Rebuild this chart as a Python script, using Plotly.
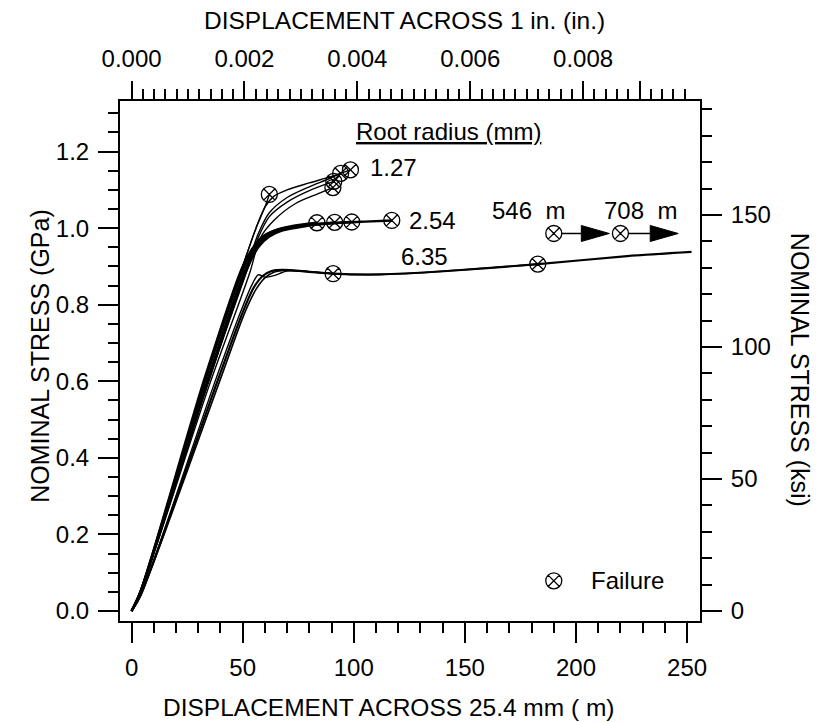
import plotly.graph_objects as go

FONT = "Liberation Sans, Arial, Helvetica, sans-serif"
INK = "black"

UM_PER_IN = 25400.0      # micrometres per inch
KSI_PER_GPA = 145.038    # ksi per GPa

# ---- axis ranges and ticks -------------------------------------------------
x_range_um = [-5.2, 255.8]
y_range_gpa = [-0.026, 1.332]

bottom_ticks_um = [0, 50, 100, 150, 200, 250]
left_ticks_gpa = [0.0, 0.2, 0.4, 0.6, 0.8, 1.0, 1.2]
right_ticks_ksi = [0, 50, 100, 150]
top_ticks_in = [0.000, 0.001, 0.002, 0.003, 0.004, 0.005, 0.006, 0.007, 0.008, 0.009]
top_labels_in = ["0.000", "", "0.002", "", "0.004", "", "0.006", "", "0.008", ""]

# ---- root radius 1.27 mm ---------------------------------------------------
r127_a_x = [0, 4, 33, 50, 56, 60, 62]
r127_a_y = [0, 0.05, 0.60, 0.90, 1.00, 1.055, 1.088]
r127_b_x = [0, 4, 33, 50, 56, 60, 64, 70, 80, 90, 98.5]
r127_b_y = [0, 0.05, 0.60, 0.90, 1.00, 1.055, 1.083, 1.10, 1.118, 1.135, 1.152]
r127_c_x = [0, 4, 34, 52, 57, 62, 70, 80, 88, 94.1]
r127_c_y = [0, 0.05, 0.60, 0.90, 0.985, 1.04, 1.08, 1.108, 1.127, 1.143]
r127_d_x = [0, 4, 34, 52, 57, 62, 70, 80, 91]
r127_d_y = [0, 0.05, 0.59, 0.89, 0.975, 1.03, 1.068, 1.098, 1.122]
r127_e_x = [0, 4, 35, 53, 58, 64, 74, 84, 90.6]
r127_e_y = [0, 0.05, 0.59, 0.88, 0.975, 1.02, 1.065, 1.09, 1.106]

# ---- root radius 2.54 mm ---------------------------------------------------
r254_a_x = [0, 4, 33, 50, 56, 60, 65, 72, 83.4]
r254_a_y = [0, 0.05, 0.60, 0.89, 0.955, 0.98, 0.995, 1.005, 1.014]
r254_b_x = [0, 4, 34, 51, 57, 61, 66, 74, 84, 91.4]
r254_b_y = [0, 0.05, 0.60, 0.89, 0.955, 0.978, 0.993, 1.004, 1.011, 1.015]
r254_c_x = [0, 4, 33, 50, 56, 60, 66, 75, 87, 99.1]
r254_c_y = [0, 0.05, 0.61, 0.90, 0.96, 0.982, 0.997, 1.006, 1.012, 1.016]
r254_d_x = [0, 4, 34, 51, 57, 62, 68, 78, 92, 105, 117.1]
r254_d_y = [0, 0.05, 0.59, 0.88, 0.95, 0.978, 0.994, 1.005, 1.013, 1.017, 1.020]

# ---- root radius 6.35 mm ---------------------------------------------------
r635_a_x = [0, 4, 38, 50, 55, 59, 63, 68, 80, 90.7, 112, 142, 183, 223, 252]
r635_a_y = [0, 0.04, 0.59, 0.78, 0.845, 0.875, 0.888, 0.891, 0.886, 0.881, 0.879, 0.888, 0.906, 0.927, 0.938]
r635_b_x = [0, 4, 37, 49, 54, 57, 60, 64, 70, 80, 90.7]
r635_b_y = [0, 0.04, 0.59, 0.78, 0.85, 0.878, 0.872, 0.876, 0.888, 0.886, 0.881]
r635_c_x = [0, 4, 39, 51, 56, 60, 64, 70, 80, 90.7, 112, 142, 182.8]
r635_c_y = [0, 0.04, 0.59, 0.78, 0.84, 0.87, 0.885, 0.89, 0.886, 0.881, 0.879, 0.888, 0.906]

# specimens whose failure lies beyond the plotted displacement range
offscale_fail_um = [546, 708]
offscale_marker_x = [190, 220]
offscale_marker_y = [0.986, 0.986]
offscale_arrow_tip_x = [215, 246]
offscale_label_x = [178.6, 229.0]
offscale_label_y = [1.046, 1.047]

# curve labels
radius_labels = ["1.27", "2.54", "6.35"]
radius_label_x = [117.8, 135.5, 131.7]
radius_label_y = [1.159, 1.021, 0.926]

# ---- figure ----------------------------------------------------------------
fig = go.Figure()

curves = [
    (r127_a_x, r127_a_y, 1.4, True), (r127_b_x, r127_b_y, 1.4, True),
    (r127_c_x, r127_c_y, 1.4, True), (r127_d_x, r127_d_y, 1.4, True),
    (r127_e_x, r127_e_y, 1.4, True),
    (r254_a_x, r254_a_y, 2.4, True), (r254_b_x, r254_b_y, 2.4, True),
    (r254_c_x, r254_c_y, 2.4, True), (r254_d_x, r254_d_y, 2.4, True),
    (r635_a_x, r635_a_y, 2.2, False), (r635_b_x, r635_b_y, 1.4, True),
    (r635_c_x, r635_c_y, 1.6, True),
]

fail_x, fail_y = [], []
for cx, cy, w, failed in curves:
    fig.add_trace(go.Scatter(
        x=cx, y=cy, mode="lines",
        line=dict(color=INK, width=w, shape="spline", smoothing=0.8),
        hoverinfo="skip"))
    if failed:
        fail_x.append(cx[-1])
        fail_y.append(cy[-1])

MARKER = dict(symbol="circle-x-open", size=16, color=INK, line=dict(width=1.3, color=INK))

# failure points at the end of each curve
fig.add_trace(go.Scatter(x=fail_x, y=fail_y, mode="markers", marker=MARKER, hoverinfo="skip"))

# off-scale failures: marker followed by an arrow pointing to the right
PX_PER_UM = 580 / (x_range_um[1] - x_range_um[0])
PX_PER_GPA = 520 / (y_range_gpa[1] - y_range_gpa[0])
head_len = 28 / PX_PER_UM
head_half = 8 / PX_PER_GPA
marker_r = 8 / PX_PER_UM

fig.add_trace(go.Scatter(x=offscale_marker_x, y=offscale_marker_y, mode="markers",
                         marker=MARKER, hoverinfo="skip"))
for mx, my, tip in zip(offscale_marker_x, offscale_marker_y, offscale_arrow_tip_x):
    base = tip - head_len
    fig.add_trace(go.Scatter(x=[mx + marker_r, base], y=[my, my], mode="lines",
                             line=dict(color=INK, width=1.5), hoverinfo="skip"))
    fig.add_trace(go.Scatter(x=[base, tip, base, base],
                             y=[my + head_half, my, my - head_half, my + head_half],
                             mode="lines", fill="toself", fillcolor=INK,
                             line=dict(color=INK, width=1), hoverinfo="skip"))
for val, lx, ly in zip(offscale_fail_um, offscale_label_x, offscale_label_y):
    fig.add_annotation(x=lx, y=ly, text=f"{val}\u00a0\u00a0m", showarrow=False,
                       xanchor="center", yanchor="middle",
                       font=dict(family=FONT, size=24, color=INK))

# legend entry
legend_x, legend_y = 190, 0.079
fig.add_trace(go.Scatter(x=[legend_x], y=[legend_y], mode="markers", marker=MARKER,
                         hoverinfo="skip"))
fig.add_annotation(x=legend_x + 16, y=legend_y, text="Failure", showarrow=False,
                   xanchor="left", yanchor="middle",
                   font=dict(family=FONT, size=24, color=INK))

# radius labels
for t, lx, ly in zip(radius_labels, radius_label_x, radius_label_y):
    fig.add_annotation(x=lx, y=ly, text=t, showarrow=False, yanchor="middle",
                       font=dict(family=FONT, size=24, color=INK))
fig.add_annotation(x=142.5, y=1.253, text="<u>Root radius (mm)</u>", showarrow=False,
                   yanchor="middle", font=dict(family=FONT, size=24, color=INK))

# invisible point to attach the secondary axes
fig.add_trace(go.Scatter(x=[x_range_um[0] / UM_PER_IN], y=[y_range_gpa[0] * KSI_PER_GPA],
                         xaxis="x2", yaxis="y2", mode="markers",
                         marker=dict(opacity=0), hoverinfo="skip"))

tickfont = dict(family=FONT, size=24, color=INK)
common = dict(showline=True, linecolor=INK, linewidth=2, showgrid=False, zeroline=False,
              ticks="outside", tickcolor=INK, tickwidth=1.8, tickfont=tickfont)

fig.update_layout(
    width=825, height=722,
    margin=dict(l=120, r=125, t=101, b=101),
    paper_bgcolor="white", plot_bgcolor="white",
    showlegend=False,
    xaxis=dict(range=x_range_um, tickmode="array", tickvals=bottom_ticks_um,
               ticklen=20, ticklabelstandoff=4,
               minor=dict(ticks="outside", dtick=10, tick0=0, ticklen=10,
                          tickwidth=1.8, tickcolor=INK),
               **common),
    xaxis2=dict(range=[v / UM_PER_IN for v in x_range_um], overlaying="x", side="top",
                tickmode="array", tickvals=top_ticks_in, ticktext=top_labels_in,
                ticklen=18, ticklabelstandoff=4,
                minor=dict(ticks="outside", tickmode="array",
                           tickvals=[i * 0.0002 for i in range(50)], ticklen=10,
                           tickwidth=1.8, tickcolor=INK),
                **common),
    yaxis=dict(range=y_range_gpa, tickmode="array", tickvals=left_ticks_gpa,
               tickformat=".1f", ticklen=20, ticklabelstandoff=4,
               minor=dict(ticks="outside", dtick=0.05, tick0=0, ticklen=10,
                          tickwidth=1.8, tickcolor=INK),
               **common),
    yaxis2=dict(range=[v * KSI_PER_GPA for v in y_range_gpa], overlaying="y", side="right",
                tickmode="array", tickvals=right_ticks_ksi, ticklen=20, ticklabelstandoff=4,
                minor=dict(ticks="outside", dtick=10, tick0=0, ticklen=10,
                           tickwidth=1.8, tickcolor=INK),
                **common),
)

title_font = dict(family=FONT, size=25, color=INK)
fig.add_annotation(xref="paper", yref="paper", x=0.491, y=1, yshift=81,
                   xanchor="center", yanchor="middle",
                   text="DISPLACEMENT ACROSS 1 in. (in.)", showarrow=False,
                   font=dict(family=FONT, size=24.5, color=INK))
fig.add_annotation(xref="paper", yref="paper", x=0.464, y=0, yshift=-86,
                   xanchor="center", yanchor="middle",
                   text="DISPLACEMENT ACROSS 25.4 mm ( m)", showarrow=False,
                   font=dict(family=FONT, size=24.5, color=INK))
fig.add_annotation(xref="paper", yref="paper", x=0, xshift=-80, y=0.51,
                   xanchor="center", yanchor="middle",
                   text="NOMINAL STRESS (GPa)", textangle=-90, showarrow=False, font=title_font)
fig.add_annotation(xref="paper", yref="paper", x=1, xshift=100, y=0.483,
                   xanchor="center", yanchor="middle",
                   text="NOMINAL STRESS (ksi)", textangle=90, showarrow=False, font=title_font)

fig.write_html("out.html")
